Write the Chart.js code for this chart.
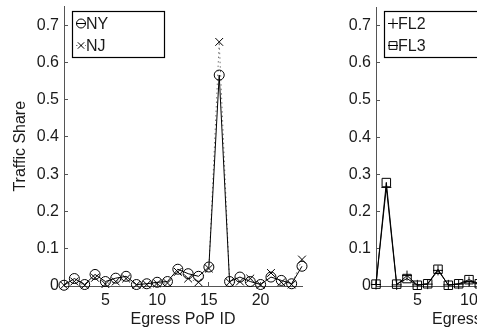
<!DOCTYPE html>
<html lang="en">
<head>
  <meta charset="UTF-8" />
  <title>Egress PoP Traffic Share</title>
  <script src="https://cdn.jsdelivr.net/npm/chart.js"></script>
  <style>
    html, body {
      margin: 0;
      padding: 0;
      background: #fff;
      width: 477px;
      height: 331px;
      overflow: hidden;
      position: relative;
    }
    canvas {
      position: absolute;
      top: 0;
    }
    #leftChart { left: 0; }
    #rightChart { left: 300px; }
  </style>
</head>
<body>
  <canvas id="leftChart" width="330" height="331"></canvas>
  <canvas id="rightChart" width="310" height="331"></canvas>

  <script>
    // egress PoP ids and traffic shares
    const popIdsLeft = [1, 2, 3, 4, 5, 6, 7, 8, 9, 10, 11, 12, 13, 14, 15, 16, 17, 18, 19, 20, 21, 22, 23, 24];
    const nyShare = [0.002, 0.02, 0.004, 0.031, 0.012, 0.021, 0.026, 0.004, 0.006, 0.01, 0.012, 0.045,
                     0.033, 0.026, 0.051, 0.566, 0.012, 0.024, 0.012, 0.004, 0.024, 0.015, 0.006, 0.053];
    const njShare = [0.002, 0.012, 0.002, 0.022, 0.005, 0.012, 0.02, 0.003, 0.004, 0.007, 0.008, 0.038,
                     0.02, 0.01, 0.047, 0.655, 0.01, 0.012, 0.02, 0.003, 0.035, 0.01, 0.004, 0.071];

    const popIdsRight = [1, 2, 3, 4, 5, 6, 7, 8, 9, 10, 11];
    const fl2Share = [0.004, 0.265, 0.003, 0.028, 0.003, 0.005, 0.042, 0.003, 0.005, 0.012, 0.006];
    const fl3Share = [0.005, 0.278, 0.005, 0.02, 0.002, 0.006, 0.045, 0.002, 0.006, 0.017, 0.006];

    const xTicks = [5, 10, 15, 20];
    const yTicks = [0, 0.1, 0.2, 0.3, 0.4, 0.5, 0.6, 0.7];

    const FONT = "'Liberation Sans', Arial, Helvetica, sans-serif";
    const AXIS = '#555';
    const TEXT = '#1a1a1a';

    const toPoints = (xs, ys) => xs.map((x, i) => ({ x, y: ys[i] }));

    function drawMarker(ctx, style, x, y, r) {
      ctx.beginPath();
      if (style === 'circle') {
        ctx.arc(x, y, r, 0, Math.PI * 2);
      } else if (style === 'crossRot') {
        const d = r * Math.SQRT1_2;
        ctx.moveTo(x - d, y - d); ctx.lineTo(x + d, y + d);
        ctx.moveTo(x - d, y + d); ctx.lineTo(x + d, y - d);
      } else if (style === 'cross') {
        ctx.moveTo(x - r, y); ctx.lineTo(x + r, y);
        ctx.moveTo(x, y - r); ctx.lineTo(x, y + r);
      } else if (style === 'rect') {
        const d = r * Math.SQRT1_2;
        ctx.rect(x - d, y - d, 2 * d, 2 * d);
      }
      ctx.stroke();
    }

    // MATLAB-like boxed legend in the upper left corner of the axes
    const boxLegend = {
      id: 'boxLegend',
      afterDraw(chart, args, opts) {
        const { ctx, chartArea } = chart;
        const x0 = Math.round(chartArea.left + opts.dx) + 0.5;
        const y0 = Math.round(chartArea.top + opts.dy) + 0.5;
        ctx.save();
        ctx.fillStyle = '#fff';
        ctx.fillRect(x0, y0, opts.width, opts.height);
        ctx.strokeStyle = '#000';
        ctx.lineWidth = 1.2;
        ctx.strokeRect(x0, y0, opts.width, opts.height);
        chart.data.datasets.forEach((ds, i) => {
          const cy = y0 + 12 + i * 22;
          const mx = x0 + 8.5;
          ctx.strokeStyle = ds.borderColor;
          ctx.lineWidth = 1;
          ctx.setLineDash(ds.borderDash || []);
          ctx.beginPath();
          ctx.moveTo(mx - 5, cy);
          ctx.lineTo(mx + 5, cy);
          ctx.stroke();
          ctx.setLineDash([]);
          ctx.strokeStyle = '#000';
          drawMarker(ctx, ds.pointStyle, mx, cy, ds.legendRadius);
          ctx.fillStyle = TEXT;
          ctx.font = '16px ' + FONT;
          ctx.textBaseline = 'middle';
          ctx.fillText(ds.label, mx + 5, cy + 1);
        });
        ctx.restore();
      }
    };

    function makeOptions(xMax, yWidth, padRight, yTitle, legendWidth) {
      return {
        responsive: false,
        animation: false,
        layout: { padding: { left: 0, top: 1, right: padRight, bottom: 0 } },
        plugins: {
          legend: { display: false },
          tooltip: { enabled: false },
          boxLegend: { dx: 8, dy: 4, width: legendWidth, height: 46 }
        },
        scales: {
          x: {
            type: 'linear',
            min: 1,
            max: xMax,
            afterBuildTicks: s => { s.ticks = xTicks.map(v => ({ value: v })); },
            afterFit: s => { s.height = 45; s.paddingLeft = 0; s.paddingRight = 0; },
            border: { display: true, color: AXIS, width: 1 },
            grid: { display: true, drawOnChartArea: false, drawTicks: true, tickLength: -4, color: AXIS },
            ticks: { color: TEXT, font: { family: FONT, size: 16 }, padding: 9, maxRotation: 0, autoSkip: false },
            title: { display: true, text: 'Egress PoP ID', color: TEXT, font: { family: FONT, size: 16 }, padding: { top: 0, bottom: 2 } }
          },
          y: {
            type: 'linear',
            min: 0,
            max: 0.75,
            afterBuildTicks: s => { s.ticks = yTicks.map(v => ({ value: v })); },
            afterFit: s => { s.width = yWidth; s.paddingTop = 0; s.paddingBottom = 0; },
            border: { display: true, color: AXIS, width: 1 },
            grid: { display: true, drawOnChartArea: false, drawTicks: true, tickLength: -4, color: AXIS },
            ticks: {
              color: TEXT,
              font: { family: FONT, size: 16 },
              padding: 9,
              callback: v => (v === 0 ? '0' : v.toFixed(1))
            },
            title: { display: !!yTitle, text: yTitle, color: TEXT, font: { family: FONT, size: 16 }, padding: { top: 11, bottom: 0 } }
          }
        }
      };
    }

    new Chart(document.getElementById('leftChart').getContext('2d'), {
      type: 'line',
      data: {
        datasets: [{
          label: 'NY',
          data: toPoints(popIdsLeft, nyShare),
          borderColor: '#000',
          borderWidth: 1,
          pointStyle: 'circle',
          pointRadius: 5,
          legendRadius: 4.5,
          pointBorderColor: '#000',
          pointBackgroundColor: 'rgba(0,0,0,0)',
          pointBorderWidth: 1,
          clip: false
        }, {
          label: 'NJ',
          data: toPoints(popIdsLeft, njShare),
          borderColor: '#777',
          borderWidth: 1,
          borderDash: [1.5, 3],
          pointStyle: 'crossRot',
          pointRadius: 5.5,
          legendRadius: 4.5,
          pointBorderColor: '#000',
          pointBorderWidth: 1,
          clip: false
        }]
      },
      options: makeOptions(24, 64, 28, 'Traffic Share', 92),
      plugins: [boxLegend]
    });

    new Chart(document.getElementById('rightChart').getContext('2d'), {
      type: 'line',
      data: {
        datasets: [{
          label: 'FL2',
          data: toPoints(popIdsRight, fl2Share),
          borderColor: '#000',
          borderWidth: 1,
          pointStyle: 'cross',
          pointRadius: 5,
          legendRadius: 5,
          pointBorderColor: '#000',
          pointBorderWidth: 1,
          clip: false
        }, {
          label: 'FL3',
          data: toPoints(popIdsRight, fl3Share),
          borderColor: '#000',
          borderWidth: 1,
          pointStyle: 'rect',
          pointRadius: 6,
          legendRadius: 5.5,
          pointBorderColor: '#000',
          pointBackgroundColor: 'rgba(0,0,0,0)',
          pointBorderWidth: 1,
          clip: false
        }]
      },
      options: makeOptions(22, 76, 17, '', 120),
      plugins: [boxLegend]
    });
  </script>
</body>
</html>
